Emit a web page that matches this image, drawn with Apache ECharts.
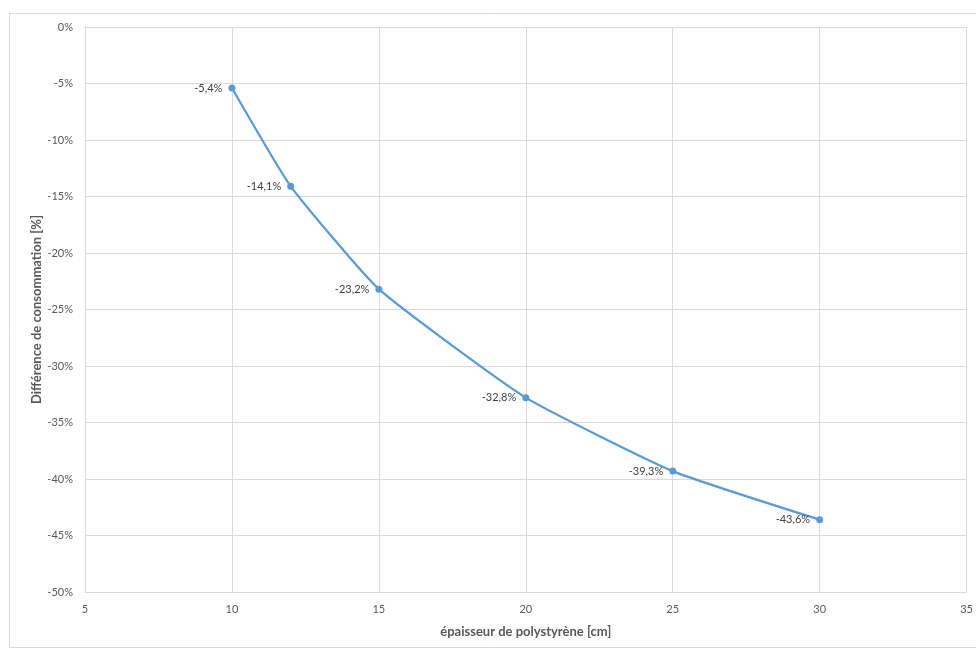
<!DOCTYPE html>
<html><head><meta charset="utf-8">
<script src="https://cdn.jsdelivr.net/npm/echarts@6/dist/echarts.min.js"></script>
<style>html,body{margin:0;padding:0;background:#fff}#c{width:976px;height:649px}</style>
</head><body><div id="c"></div>
<script>
const thickness = [10, 12, 15, 20, 25, 30];
const diffPct = [-5.4, -14.1, -23.2, -32.8, -39.3, -43.6];
const xTitle = 'épaisseur de polystyrène [cm]';
const yTitle = 'Différence de consommation [%]';

const font = 'Lato, "Open Sans", sans-serif';
const chart = echarts.init(document.getElementById('c'), null, {renderer: 'canvas'});
chart.setOption({
  animation: false,
  backgroundColor: '#fff',
  graphic: [{type: 'rect', shape: {x: 9.5, y: 13.5, width: 980, height: 634}, style: {fill: 'none', stroke: '#d9d9d9', lineWidth: 1}, silent: true}],
  grid: {left: 85, right: 6, top: 27, bottom: 57},
  xAxis: {
    type: 'value', min: 5, max: 35, interval: 5,
    name: xTitle, nameLocation: 'middle', nameGap: 33,
    nameTextStyle: {fontFamily: font, fontSize: 13, fontWeight: 'bold', color: '#595959'},
    axisLine: {show: true, lineStyle: {color: '#d9d9d9'}},
    axisTick: {show: false},
    axisLabel: {fontFamily: font, fontSize: 11, color: '#595959', margin: 12},
    splitLine: {show: true, lineStyle: {color: '#d9d9d9'}}
  },
  yAxis: {
    type: 'value', min: -50, max: 0, interval: 5,
    name: yTitle, nameLocation: 'middle', nameGap: 42, nameRotate: 90, nameMoveOverlap: false,
    nameTextStyle: {fontFamily: font, fontSize: 13, fontWeight: 'bold', color: '#595959'},
    axisLine: {show: true, lineStyle: {color: '#d9d9d9'}},
    axisTick: {show: false},
    axisLabel: {fontFamily: font, fontSize: 11, color: '#595959', margin: 12, formatter: v => v + '%'},
    splitLine: {show: true, lineStyle: {color: '#d9d9d9'}}
  },
  series: [{
    type: 'line',
    data: thickness.map((x, i) => [x, diffPct[i]]),
    smooth: 0.15,
    symbol: 'circle', symbolSize: 7,
    lineStyle: {color: '#5b9bd5', width: 2.25},
    itemStyle: {color: '#5b9bd5'},
    label: {
      show: true, position: 'left', distance: 6,
      fontFamily: font, fontSize: 11, color: '#404040',
      formatter: p => String(p.value[1]).replace('.', ',') + '%'
    }
  }]
});
</script></body></html>
